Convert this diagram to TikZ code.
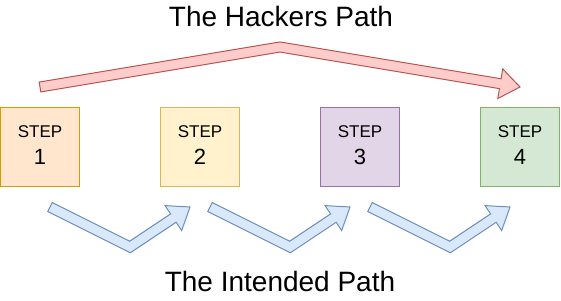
\documentclass[tikz,border=0pt]{standalone}
\usepackage{fontspec}
\setmainfont{Liberation Sans}
\usepackage{xcolor}
\usepackage{tikz}
\usetikzlibrary{calc}
\definecolor{OrangeFill}{HTML}{FFE6CC}
\definecolor{OrangeLine}{HTML}{D79B00}
\definecolor{YellowFill}{HTML}{FFF2CC}
\definecolor{YellowLine}{HTML}{D6B656}
\definecolor{PurpleFill}{HTML}{E1D5E7}
\definecolor{PurpleLine}{HTML}{9673A6}
\definecolor{GreenFill}{HTML}{D5E8D4}
\definecolor{GreenLine}{HTML}{82B366}
\definecolor{RedFill}{HTML}{FFCCCC}
\definecolor{RedLine}{HTML}{B85450}
\definecolor{BlueFill}{HTML}{DAE8FC}
\definecolor{BlueLine}{HTML}{6C8EBF}

% bent block arrow: #1 tail, #2 bend, #3 tip, #4 style
\newcommand\fatarrow[4]{%
  \coordinate (h) at ($(#3)!20pt!(#2)$);
  \coordinate (a1) at ($(#1)!5pt!90:(#2)$);
  \coordinate (a2) at ($(#1)!5pt!-90:(#2)$);
  \coordinate (p1) at ($(#2)!5pt!-90:(#1)$);
  \coordinate (p2) at ($(#2)!5pt!90:(#1)$);
  \coordinate (q1) at ($(#2)!5pt!90:(#3)$);
  \coordinate (q2) at ($(#2)!5pt!-90:(#3)$);
  \coordinate (h1) at ($(h)!5pt!-90:(#2)$);
  \coordinate (h2) at ($(h)!5pt!90:(#2)$);
  \coordinate (k1) at ($(h)!15pt!-90:(#2)$);
  \coordinate (k2) at ($(h)!15pt!90:(#2)$);
  \draw[#4] (a1) -- (intersection of a1--p1 and q1--h1) -- (h1) -- (k1)
    -- (#3) -- (k2) -- (h2) -- (intersection of a2--p2 and q2--h2) -- (a2) -- cycle;
}

\begin{document}
\begin{tikzpicture}[x=1pt,y=-1pt,
  stepbox/.style={draw,line width=1pt,minimum size=79pt,inner sep=0pt},
  steptxt/.style={anchor=base,font=\fontsize{17}{20}\selectfont},
  stepnum/.style={anchor=base,font=\fontsize{22}{26}\selectfont},
  pathtitle/.style={anchor=base,font=\fontsize{28}{32}\selectfont},
  hackarrow/.style={fill=RedFill,draw=RedLine,line width=1pt,line join=miter},
  intendarrow/.style={fill=BlueFill,draw=BlueLine,line width=1pt,line join=miter}]
  \useasboundingbox (0,0) rectangle (561,300);

  % steps
  \foreach \i/\col in {1/Orange,2/Yellow,3/Purple,4/Green}{
    \node[stepbox,fill=\col Fill,draw=\col Line] (s\i) at ({40+160*(\i-1)},147) {};
    \node[steptxt] (t\i) at ([yshift=10pt]s\i.center) {STEP};
    \node[stepnum] (n\i) at ([yshift=-17pt]s\i.center) {\i};
  }

  % hackers path
  \coordinate (ha) at (40,87);
  \coordinate (hb) at (280,47);
  \coordinate (hc) at (520,87);
  \fatarrow{ha}{hb}{hc}{hackarrow}
  \node[pathtitle] (hacktitle) at (281,26) {The Hackers Path};

  % intended path
  \foreach \k in {0,1,2}{
    \coordinate (ia) at ({50+160*\k},207);
    \coordinate (ib) at ({130+160*\k},247);
    \coordinate (ic) at ({190+160*\k},207);
    \fatarrow{ia}{ib}{ic}{intendarrow}
  }
  \node[pathtitle] (intendtitle) at (280,291) {The Intended Path};
\end{tikzpicture}
\end{document}
